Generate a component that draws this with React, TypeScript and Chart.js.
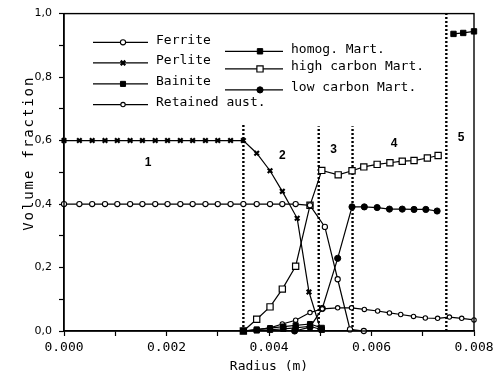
import React, { useEffect, useRef } from 'react';
import { Chart, registerables } from 'chart.js';

Chart.register(...registerables);

// Radii (m) of the outer ferrite/perlite band
const outerRadii = [0, 0.0003, 0.00055, 0.0008, 0.00104, 0.00129, 0.00153, 0.00178, 0.00202, 0.00227, 0.00251, 0.00276, 0.003, 0.00325, 0.0035];

const ferriteR = [...outerRadii, 0.00376, 0.00402, 0.00426, 0.00452, 0.0048, 0.00509, 0.00534, 0.00558, 0.00585];
const ferriteV = [...outerRadii.map(() => 0.4), 0.4, 0.4, 0.4, 0.4, 0.396, 0.328, 0.163, 0.005, 0.0];

const perliteR = [...outerRadii, 0.00376, 0.00402, 0.00426, 0.00455, 0.00478, 0.005];
const perliteV = [...outerRadii.map(() => 0.6), 0.56, 0.505, 0.44, 0.355, 0.123, 0.008];

const bainiteR = [0.0035, 0.00376, 0.00402, 0.00428, 0.00452, 0.0048, 0.00503];
const bainiteV = [0, 0.005, 0.009, 0.014, 0.018, 0.022, 0.01];

const retainedR = [0.0035, 0.00376, 0.00402, 0.00426, 0.00452, 0.0048, 0.00504, 0.00534, 0.00561, 0.00586, 0.00612, 0.00635, 0.00657, 0.00682, 0.00705, 0.00729, 0.00752, 0.00776, 0.008];
const retainedV = [0, 0.004, 0.01, 0.022, 0.034, 0.058, 0.07, 0.073, 0.073, 0.068, 0.063, 0.057, 0.052, 0.046, 0.041, 0.04, 0.044, 0.04, 0.035];

// Homogeneous martensite: trace amounts in zone 2, then the core (zone 5); null breaks the line
const homogR = [0.0035, 0.00376, 0.00402, 0.00428, 0.00452, 0.0048, 0.00503, 0.0062, 0.0076, 0.00779, 0.008];
const homogV = [0, 0.002, 0.004, 0.007, 0.01, 0.015, 0.004, null, 0.936, 0.939, 0.944];

const highCR = [0.0035, 0.00376, 0.00402, 0.00426, 0.00452, 0.0048, 0.00503, 0.00535, 0.00562, 0.00585, 0.00611, 0.00636, 0.0066, 0.00683, 0.00709, 0.0073];
const highCV = [0, 0.037, 0.076, 0.132, 0.204, 0.396, 0.506, 0.492, 0.505, 0.517, 0.525, 0.53, 0.535, 0.537, 0.545, 0.553];

const lowCR = [0.0045, 0.0048, 0.00504, 0.00534, 0.00562, 0.00586, 0.00611, 0.00635, 0.0066, 0.00683, 0.00706, 0.00728];
const lowCV = [0, 0.012, 0.071, 0.229, 0.391, 0.391, 0.389, 0.384, 0.384, 0.383, 0.383, 0.378];

// Zone boundaries (m) and how high each dotted divider reaches
const zoneBounds = [0.0035, 0.00497, 0.00563, 0.00746];
const zoneTops = [0.654, 0.645, 0.645, 1.0];

// Zone numbers and their anchor positions (radius, fraction)
const zoneLabels = ['1', '2', '3', '4', '5'];
const zoneLabelR = [0.00164, 0.00426, 0.00526, 0.00644, 0.00775];
const zoneLabelV = [0.531, 0.553, 0.571, 0.591, 0.608];

const xTicks = [0, 0.002, 0.004, 0.006, 0.008];
const yTicks = [0, 0.2, 0.4, 0.6, 0.8, 1.0];

const MONO = '"DejaVu Sans Mono", monospace';

type Series = {
  label: string; r: number[]; v: (number | null)[]; style: string; radius: number; fill: string; bw: number;
};

const series: Series[] = [
  { label: 'Ferrite', r: ferriteR, v: ferriteV, style: 'circle', radius: 2.6, fill: '#fff', bw: 1.1 },
  { label: 'Perlite', r: perliteR, v: perliteV, style: 'crossRot', radius: 3.2, fill: '#000', bw: 2.2 },
  { label: 'Bainite', r: bainiteR, v: bainiteV, style: 'rect', radius: 3.6, fill: '#000', bw: 1 },
  { label: 'Retained aust.', r: retainedR, v: retainedV, style: 'circle', radius: 2.2, fill: '#fff', bw: 1.1 },
  { label: 'homog. Mart.', r: homogR, v: homogV, style: 'rect', radius: 3.8, fill: '#000', bw: 1 },
  { label: 'high carbon Mart.', r: highCR, v: highCV, style: 'rect', radius: 4.4, fill: '#fff', bw: 1.2 },
  { label: 'low carbon Mart.', r: lowCR, v: lowCV, style: 'circle', radius: 3.1, fill: '#000', bw: 1 },
];

const zip = (r: number[], v: (number | null)[]) => r.map((x, i) => ({ x, y: v[i] }));

function drawMarker(ctx: CanvasRenderingContext2D, s: Series, x: number, y: number) {
  ctx.save();
  ctx.fillStyle = s.fill;
  ctx.strokeStyle = '#000';
  ctx.lineWidth = s.bw;
  ctx.beginPath();
  if (s.style === 'circle') {
    ctx.arc(x, y, s.radius, 0, Math.PI * 2);
    ctx.fill();
    ctx.stroke();
  } else if (s.style === 'rect') {
    const h = s.radius * Math.SQRT1_2;
    ctx.rect(x - h, y - h, 2 * h, 2 * h);
    ctx.fill();
    ctx.stroke();
  } else {
    const d = s.radius * Math.SQRT1_2;
    ctx.moveTo(x - d, y - d);
    ctx.lineTo(x + d, y + d);
    ctx.moveTo(x + d, y - d);
    ctx.lineTo(x - d, y + d);
    ctx.stroke();
  }
  ctx.restore();
}

// Legend drawn inside the plot in two columns
const legendPlugin = {
  id: 'insideLegend',
  afterDraw(chart: any) {
    const { ctx, chartArea: a } = chart;
    const cols = [
      { x0: a.left + 29, x1: a.left + 84, m: a.left + 59, t: a.left + 92, rows: [28.7, 49.3, 70.3, 91], items: [0, 1, 2, 3] },
      { x0: a.left + 161, x1: a.left + 219, m: a.left + 196, t: a.left + 227, rows: [37.7, 55.3, 76.3], items: [4, 5, 6] },
    ];
    ctx.save();
    ctx.font = `13px ${MONO}`;
    ctx.fillStyle = '#000';
    ctx.textBaseline = 'middle';
    cols.forEach((c) => {
      c.items.forEach((idx, k) => {
        const y = a.top + c.rows[k];
        ctx.strokeStyle = '#000';
        ctx.lineWidth = 1.2;
        ctx.beginPath();
        ctx.moveTo(c.x0, y);
        ctx.lineTo(c.x1, y);
        ctx.stroke();
        drawMarker(ctx, series[idx], c.m, y);
        ctx.fillText(series[idx].label, c.t, y - 2);
      });
    });
    ctx.restore();
  },
};

// Frame, zone numbers and the rotated y-axis title
const decorPlugin = {
  id: 'decor',
  afterDraw(chart: any) {
    const { ctx, chartArea: a, scales } = chart;
    ctx.save();
    ctx.strokeStyle = '#000';
    ctx.lineWidth = 1.4;
    ctx.strokeRect(a.left, a.top, a.right - a.left, a.bottom - a.top);

    ctx.fillStyle = '#000';
    ctx.font = 'bold 12px "Liberation Sans", Arial, sans-serif';
    ctx.textAlign = 'center';
    ctx.textBaseline = 'middle';
    zoneLabels.forEach((t, i) => {
      ctx.fillText(t, scales.x.getPixelForValue(zoneLabelR[i]), scales.y.getPixelForValue(zoneLabelV[i]));
    });

    ctx.translate(a.left - 35, scales.y.getPixelForValue(0.56));
    ctx.rotate(-Math.PI / 2);
    ctx.font = `14px ${MONO}`;
    (ctx as any).letterSpacing = '1.9px';
    ctx.textAlign = 'center';
    ctx.fillText('Volume fraction', 0, 0);
    ctx.restore();
  },
};

export default function App() {
  const canvasRef = useRef<HTMLCanvasElement | null>(null);

  useEffect(() => {
    if (!canvasRef.current) return;

    const datasets: any[] = series.map((s) => ({
      label: s.label,
      data: zip(s.r, s.v),
      borderColor: '#000',
      borderWidth: 1.2,
      pointStyle: s.style,
      pointRadius: s.radius,
      pointBackgroundColor: s.fill,
      pointBorderColor: '#000',
      pointBorderWidth: s.bw,
      showLine: true,
      spanGaps: false,
      tension: 0,
      clip: false,
    }));

    zoneBounds.forEach((b, i) => {
      datasets.push({
        label: `zone${i}`,
        data: [{ x: b, y: 0 }, { x: b, y: zoneTops[i] }],
        borderColor: '#000',
        borderWidth: 2.4,
        borderDash: [2, 2],
        pointRadius: 0,
        showLine: true,
        clip: false,
      });
    });

    const chart = new Chart(canvasRef.current, {
      type: 'scatter',
      data: { datasets },
      options: {
        animation: false,
        responsive: false,
        devicePixelRatio: 1,
        layout: { padding: { left: 0, right: 24, top: 13, bottom: 0 } },
        plugins: {
          legend: { display: false },
          tooltip: { enabled: false },
        },
        scales: {
          x: {
            type: 'linear',
            min: 0,
            max: 0.008,
            afterFit: (s: any) => { s.height = 44; },
            afterBuildTicks: (s: any) => {
              const t: any[] = [];
              for (let i = 0; i <= 8; i++) t.push({ value: i * 0.001 });
              s.ticks = t;
            },
            ticks: {
              autoSkip: false,
              maxRotation: 0,
              padding: 4,
              color: '#000',
              font: { family: MONO, size: 13 },
              callback: (v: any) => {
                const hit = xTicks.find((t) => Math.abs(t - v) < 1e-7);
                return hit === undefined ? '' : hit.toFixed(3);
              },
            },
            grid: { drawOnChartArea: false, tickLength: 5, color: '#000', tickWidth: 1.2 },
            border: { color: '#000', width: 1.4 },
            title: {
              display: true,
              text: 'Radius (m)',
              color: '#000',
              font: { family: MONO, size: 13 },
              padding: { top: 0, bottom: 1 },
            },
          },
          y: {
            type: 'linear',
            min: 0,
            max: 1,
            afterFit: (s: any) => { s.width = 64; },
            afterBuildTicks: (s: any) => {
              const t: any[] = [];
              for (let i = 0; i <= 10; i++) t.push({ value: i / 10 });
              s.ticks = t;
            },
            ticks: {
              autoSkip: false,
              padding: 7,
              color: '#000',
              font: { family: '"DejaVu Sans", sans-serif', size: 11 },
              callback: (v: any) => {
                const hit = yTicks.find((t) => Math.abs(t - v) < 1e-7);
                return hit === undefined ? '' : hit.toFixed(1).replace('.', ',');
              },
            },
            grid: { drawOnChartArea: false, tickLength: 5, color: '#000', tickWidth: 1.2 },
            border: { color: '#000', width: 1.4 },
          },
        },
      },
      plugins: [legendPlugin, decorPlugin],
    });

    return () => chart.destroy();
  }, []);

  return (
    <div style={{ position: 'absolute', left: 0, top: 0, width: 498, height: 375, background: '#fff' }}>
      <canvas ref={canvasRef} width={498} height={375} style={{ display: 'block' }} />
    </div>
  );
}
